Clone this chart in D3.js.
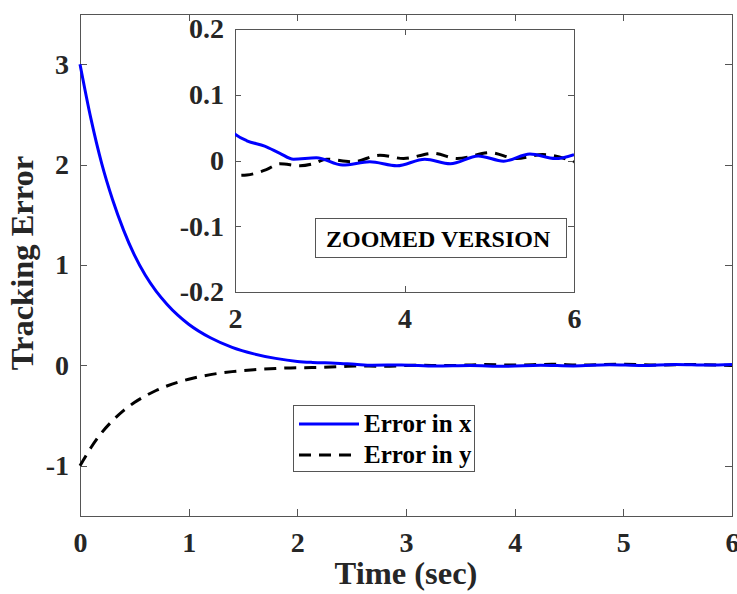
<!DOCTYPE html>
<html lang="en">
<head>
    <meta charset="UTF-8">
    <title>Tracking Error</title>
    <style>
        body { margin: 0; background: #fff; }
        svg text { font-family: "Liberation Serif", "Times New Roman", serif !important; font-weight: bold; }
    </style>
</head>
<body>
<div id="graph"></div>

<script src="https://cdnjs.cloudflare.com/ajax/libs/d3/7.8.5/d3.min.js"></script>

<script>
    // data
    const timeX = [0, 0.1, 0.2, 0.3, 0.4, 0.5, 0.6, 0.7, 0.8, 0.9, 1.0, 1.2, 1.4, 1.6, 1.8, 2.0,
        2.14, 2.35, 2.53, 2.69, 2.96, 3.27, 3.59, 3.91, 4.24, 4.54, 4.87, 5.17, 5.48, 5.78, 6.0];
    const errX = [3, 2.46, 2.01, 1.65, 1.35, 1.10, 0.90, 0.74, 0.61, 0.50, 0.41, 0.275, 0.18, 0.115, 0.07, 0.040,
        0.030, 0.022, 0.011, 0.002, 0.004, -0.007, -0.002, -0.008, 0.002, -0.005, 0.007, -0.001, 0.010, 0.003, 0.009];

    const timeY = [0, 0.1, 0.2, 0.3, 0.4, 0.5, 0.6, 0.7, 0.8, 0.9, 1.0, 1.2, 1.4, 1.6, 1.8, 2.0,
        2.14, 2.37, 2.53, 2.77, 2.92, 3.08, 3.39, 3.71, 3.99, 4.34, 4.62, 5.01, 5.32, 5.63, 6.0];
    const errY = [-1, -0.82, -0.67, -0.55, -0.45, -0.37, -0.305, -0.25, -0.205, -0.168, -0.138, -0.092, -0.062, -0.043, -0.031, -0.023,
        -0.022, -0.014, -0.005, -0.008, -0.005, 0.002, -0.002, 0.008, 0.003, 0.011, 0.003, 0.012, 0.003, 0.009, -0.002];

    const seriesNames = ["Error in x", "Error in y"];

    // tick labels
    const mainXTicks = [0, 1, 2, 3, 4, 5, 6];
    const mainYTicks = [-1, 0, 1, 2, 3];
    const mainYLabels = ["-1", "0", "1", "2", "3"];
    const insetXTicks = [2, 4, 6];
    const insetYTicks = [-0.2, -0.1, 0, 0.1, 0.2];
    const insetYLabels = ["-0.2", "-0.1", "0", "0.1", "0.2"];

    //config
    const width = 737, height = 594;
    const axisColor = "#555555";
    const textColor = "#262626";
    const serif = '"Liberation Serif", "Times New Roman", serif';

    const svg = d3.select("#graph").append("svg")
        .attr("width", width)
        .attr("height", height);

    const x = d3.scaleLinear().domain([0, 6]).range([80, 732]);
    const y = d3.scaleLinear().domain([-1.5, 3.5]).range([516, 14]);

    const ptsX = timeX.map((t, i) => [t, errX[i]]);
    const ptsY = timeY.map((t, i) => [t, errY[i]]);

    // draws a box with ticks on all four sides
    function drawFrame(g, sx, sy, xt, yt, yLabels, tickLen, fontSize) {
        const [x0, x1] = sx.range();
        const [y0, y1] = sy.range();
        g.append("rect")
            .attr("x", x0).attr("y", y1)
            .attr("width", x1 - x0).attr("height", y0 - y1)
            .attr("fill", "white");

        const bottom = g.append("g").attr("transform", `translate(0,${y0})`)
            .call(d3.axisBottom(sx).tickValues(xt).tickSize(-tickLen).tickPadding(16).tickFormat(d3.format("d")));
        const top = g.append("g").attr("transform", `translate(0,${y1})`)
            .call(d3.axisTop(sx).tickValues(xt).tickSize(-tickLen).tickFormat(""));
        const left = g.append("g").attr("transform", `translate(${x0},0)`)
            .call(d3.axisLeft(sy).tickValues(yt).tickSize(-tickLen).tickPadding(11).tickFormat((d, i) => yLabels[i]));
        const right = g.append("g").attr("transform", `translate(${x1},0)`)
            .call(d3.axisRight(sy).tickValues(yt).tickSize(-tickLen).tickFormat(""));

        [bottom, top, left, right].forEach(a => {
            a.attr("font-family", serif).attr("font-size", fontSize).attr("font-weight", "bold");
            a.select(".domain").attr("stroke", axisColor).attr("shape-rendering", "crispEdges");
            a.selectAll(".tick line").attr("stroke", axisColor).attr("shape-rendering", "crispEdges");
            a.selectAll("text")
                .attr("fill", textColor)
                .attr("font-family", serif)
                .attr("font-size", fontSize)
                .attr("font-weight", "bold");
        });
    }

    function addLines(g, sx, sy, clipId) {
        const line = d3.line()
            .x(d => sx(d[0]))
            .y(d => sy(d[1]))
            .curve(d3.curveMonotoneX);
        const lg = g.append("g");
        if (clipId) lg.attr("clip-path", `url(#${clipId})`);
        lg.append("path").datum(ptsY)
            .attr("d", line).attr("fill", "none")
            .attr("stroke", "#000").attr("stroke-width", 3)
            .attr("stroke-dasharray", "12,8");
        lg.append("path").datum(ptsX)
            .attr("d", line).attr("fill", "none")
            .attr("stroke", "#0000ff").attr("stroke-width", 3);
    }

    // main axes
    const main = svg.append("g");
    drawFrame(main, x, y, mainXTicks, mainYTicks, mainYLabels, 7, 28);
    addLines(main, x, y, null);

    svg.append("text")
        .attr("x", 406).attr("y", 584)
        .attr("text-anchor", "middle")
        .attr("fill", textColor)
        .attr("font-size", 32.5)
        .text("Time (sec)");

    svg.append("text")
        .attr("transform", "translate(33,263) rotate(-90)")
        .attr("text-anchor", "middle")
        .attr("fill", textColor)
        .attr("font-size", 32.5)
        .text("Tracking Error");

    // legend
    const leg = svg.append("g");
    leg.append("rect")
        .attr("x", 293.5).attr("y", 405.5).attr("width", 181).attr("height", 66)
        .attr("fill", "white").attr("stroke", axisColor);
    const legColors = ["#0000ff", "#000"];
    const legDash = [null, "12,8"];
    seriesNames.forEach((name, i) => {
        const ly = 424 + i * 31;
        leg.append("line")
            .attr("x1", 299).attr("x2", 359).attr("y1", ly).attr("y2", ly)
            .attr("stroke", legColors[i]).attr("stroke-width", 3)
            .attr("stroke-dasharray", legDash[i]);
        leg.append("text")
            .attr("x", 364).attr("y", ly + 8)
            .attr("fill", "#000")
            .attr("font-size", 25)
            .text(name);
    });

    // inset
    const ix = d3.scaleLinear().domain([2, 6]).range([235, 574]);
    const iy = d3.scaleLinear().domain([-0.2, 0.2]).range([292, 29]);
    svg.append("defs").append("clipPath").attr("id", "insetClip")
        .append("rect").attr("x", 235).attr("y", 29).attr("width", 339).attr("height", 263);
    const inset = svg.append("g");
    drawFrame(inset, ix, iy, insetXTicks, insetYTicks, insetYLabels, 6, 28);
    addLines(inset, ix, iy, "insetClip");

    inset.append("rect")
        .attr("x", 315.5).attr("y", 218.5).attr("width", 251).attr("height", 39)
        .attr("fill", "white").attr("stroke", axisColor);
    inset.append("text")
        .attr("x", 326).attr("y", 247)
        .attr("fill", "#000")
        .attr("font-size", 24)
        .text("ZOOMED VERSION");
</script>
</body>
</html>
